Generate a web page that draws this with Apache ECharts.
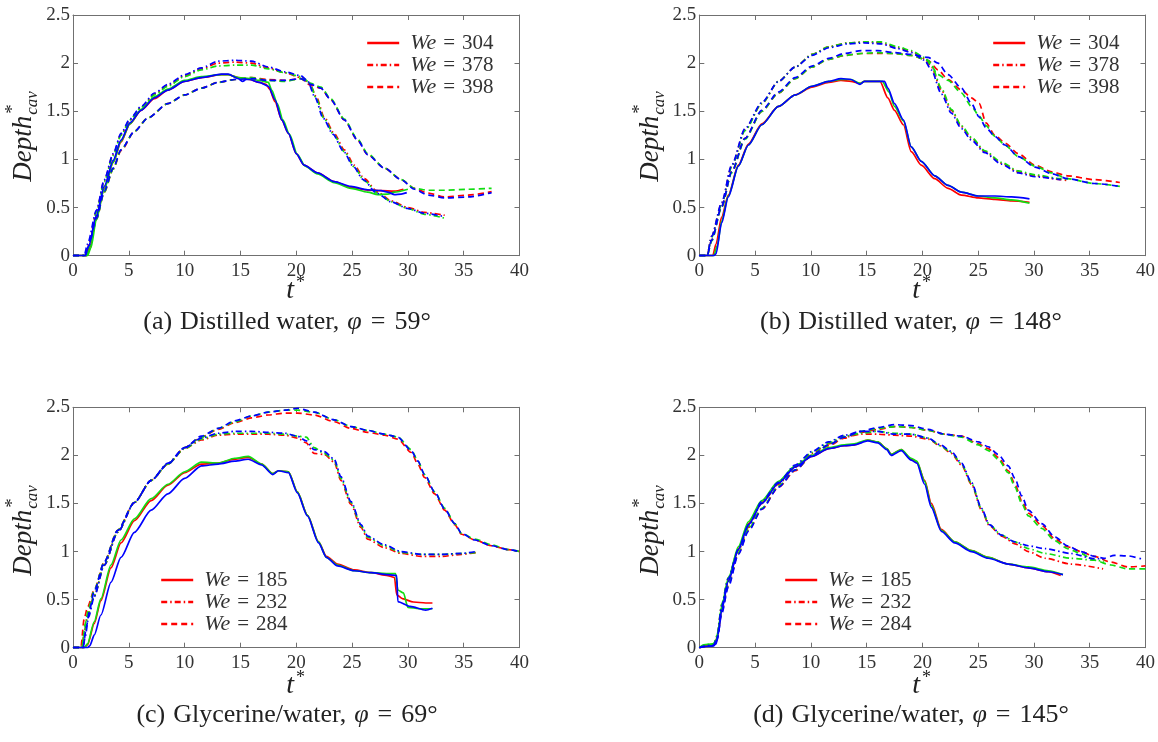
<!DOCTYPE html>
<html><head><meta charset="utf-8">
<script src="https://cdn.jsdelivr.net/npm/echarts@6/dist/echarts.min.js"></script>
<style>html,body{margin:0;padding:0;background:#fff}#c{width:1158px;height:742px}</style>
</head><body><div id="c"></div>
<script>
// ---------- axis ticks ----------
const xTicks = {min:0, max:40, interval:5};
const yTicks = {min:0, max:2.5, interval:0.5};

// ---------- panel (a) Distilled water, phi = 59 ----------
const a304r = [[0,0],[1.2,0],[1.5,0.08],[2.1,0.40],[2.8,0.70],[3.6,0.97],[4.3,1.18],[5.1,1.37],[6.1,1.51],[7.3,1.63],[8.5,1.72],[10,1.81],[11.5,1.85],[13.3,1.88],[13.9,1.88],[14.8,1.85],[15.8,1.83],[16.7,1.80],[17.3,1.78],[17.6,1.73],[18.1,1.60],[18.7,1.41],[19.3,1.27],[20,1.06],[20.7,0.94],[21.9,0.86],[23.4,0.77],[24.9,0.71],[26.4,0.68],[27.6,0.675],[28.8,0.67],[29.6,0.69]];
const a304g = [[0,0],[1.3,0],[1.6,0.08],[2.1,0.38],[2.8,0.69],[3.6,0.97],[4.3,1.19],[5.1,1.37],[6.1,1.52],[7.3,1.65],[8.5,1.73],[10,1.82],[11.5,1.86],[13.3,1.88],[13.9,1.88],[14.8,1.85],[15.8,1.84],[16.7,1.82],[17.5,1.80],[17.8,1.72],[18.3,1.58],[18.8,1.41],[19.4,1.26],[20.1,1.05],[20.8,0.93],[21.9,0.85],[23.4,0.76],[24.9,0.70],[26.4,0.66],[27.3,0.635],[28.2,0.64],[28.8,0.66],[30,0.69]];
const a304b = [[0,0],[1.1,0],[1.4,0.10],[2.1,0.42],[2.8,0.72],[3.6,0.99],[4.3,1.20],[5.1,1.38],[6.1,1.51],[7.3,1.64],[8.5,1.72],[10,1.81],[11.5,1.85],[13.3,1.885],[13.9,1.885],[14.8,1.84],[15.2,1.81],[15.5,1.83],[15.8,1.83],[16.7,1.80],[17.5,1.76],[18.1,1.62],[18.7,1.41],[19.3,1.27],[20,1.06],[20.7,0.94],[21.9,0.86],[23.4,0.77],[24.9,0.72],[26.4,0.685],[27.6,0.675],[28.2,0.66],[28.8,0.635],[29.4,0.64],[29.9,0.655]];
const a378r = [[0,0],[1.1,0],[1.4,0.12],[2.1,0.46],[2.8,0.78],[3.6,1.05],[4.3,1.26],[5.1,1.41],[6.1,1.54],[7.3,1.68],[8.5,1.77],[10,1.87],[11.5,1.94],[13,2.0],[14.5,2.01],[16,2.0],[17.5,1.95],[19,1.90],[20.4,1.85],[21.2,1.79],[21.8,1.65],[22.5,1.44],[23.4,1.27],[24.3,1.10],[25.2,0.94],[26.1,0.80],[27.3,0.66],[28.5,0.57],[30,0.50],[31.5,0.45],[33.3,0.42]];
const a378g = [[0,0],[1.2,0],[1.5,0.12],[2.1,0.45],[2.8,0.77],[3.6,1.04],[4.3,1.25],[5.1,1.41],[6.1,1.54],[7.3,1.67],[8.5,1.76],[10,1.86],[11.5,1.93],[13,1.97],[14.5,1.98],[16,1.98],[17.5,1.94],[19,1.90],[20.4,1.86],[21.2,1.80],[21.8,1.63],[22.5,1.42],[23.4,1.25],[24.3,1.08],[25.2,0.92],[26.1,0.78],[27.3,0.65],[28.5,0.56],[30,0.49],[31.5,0.43],[33.3,0.39]];
const a378b = [[0,0],[1.0,0],[1.3,0.12],[2.1,0.47],[2.8,0.79],[3.6,1.06],[4.3,1.27],[5.1,1.42],[6.1,1.55],[7.3,1.69],[8.5,1.78],[10,1.88],[11.5,1.95],[13,2.02],[14.5,2.03],[16,2.02],[17.5,1.96],[19,1.91],[20.4,1.87],[21,1.82],[21.7,1.64],[22.4,1.43],[23.3,1.26],[24.2,1.09],[25.1,0.93],[26,0.79],[27.2,0.65],[28.5,0.56],[30,0.49],[31.5,0.44],[33.3,0.405]];
const a398r = [[0,0],[1.2,0],[1.5,0.10],[2.1,0.38],[2.8,0.66],[3.6,0.90],[4.3,1.09],[5.5,1.29],[6.7,1.43],[8.5,1.58],[10,1.67],[11.5,1.74],[13,1.80],[14.5,1.83],[16,1.85],[17.5,1.83],[19,1.82],[20.4,1.84],[21.3,1.77],[22.2,1.74],[23.1,1.62],[24.3,1.41],[25.5,1.20],[26.4,1.05],[27.9,0.91],[29.4,0.79],[30.6,0.70],[31.8,0.65],[33.3,0.61],[35.4,0.63],[37.5,0.665]];
const a398g = [[0,0],[1.2,0],[1.5,0.10],[2.1,0.38],[2.8,0.66],[3.6,0.90],[4.3,1.10],[5.5,1.29],[6.7,1.43],[8.5,1.58],[10,1.67],[11.5,1.74],[13,1.80],[14.5,1.83],[16,1.85],[17.5,1.82],[19,1.81],[20.4,1.84],[21.3,1.79],[22.2,1.75],[23.1,1.63],[24.3,1.42],[25.5,1.21],[26.4,1.06],[27.9,0.91],[29.4,0.79],[30.6,0.70],[31.8,0.68],[33.3,0.68],[35.4,0.69],[37.5,0.70]];
const a398b = [[0,0],[1.1,0],[1.4,0.10],[2.1,0.39],[2.8,0.67],[3.6,0.91],[4.3,1.10],[5.5,1.29],[6.7,1.43],[8.5,1.58],[10,1.67],[11.5,1.74],[13,1.80],[14.5,1.83],[16,1.84],[17.5,1.82],[19,1.82],[20.4,1.84],[21.3,1.78],[22.2,1.74],[23.1,1.62],[24.3,1.41],[25.5,1.20],[26.4,1.05],[27.9,0.91],[29.4,0.79],[30.6,0.69],[31.8,0.63],[33.3,0.60],[35.4,0.61],[37.5,0.655]];

// ---------- panel (b) Distilled water, phi = 148 ----------
const b304r = [[0,0],[1.2,0],[1.5,0.12],[2,0.40],[2.6,0.63],[3.5,0.94],[4.4,1.16],[5.6,1.37],[7.1,1.55],[8.6,1.67],[10.1,1.75],[11.6,1.80],[12.7,1.82],[13.6,1.81],[14.4,1.79],[14.8,1.81],[15.7,1.81],[16.2,1.81],[16.9,1.64],[17.5,1.51],[18.3,1.36],[19,1.08],[19.9,0.94],[21.1,0.80],[22.3,0.70],[23.5,0.63],[25,0.60],[26.5,0.585],[28,0.57],[29.6,0.555]];
const b304g = [[0,0],[1.3,0],[1.6,0.10],[2,0.36],[2.6,0.62],[3.5,0.93],[4.4,1.15],[5.6,1.36],[7.1,1.55],[8.6,1.67],[10.1,1.76],[11.6,1.81],[12.7,1.83],[13.6,1.83],[14.4,1.79],[14.8,1.81],[15.7,1.81],[16.4,1.81],[17,1.70],[17.5,1.55],[18.3,1.40],[19,1.13],[19.9,0.98],[21.1,0.83],[22.3,0.73],[23.5,0.66],[25,0.62],[26.5,0.60],[28,0.58],[29.6,0.545]];
const b304b = [[0,0],[1.3,0],[1.5,0.02],[2,0.34],[2.6,0.61],[3.5,0.93],[4.4,1.15],[5.6,1.36],[7.1,1.55],[8.6,1.67],[10.1,1.76],[11.6,1.81],[12.7,1.84],[13.6,1.83],[14.4,1.78],[14.8,1.81],[15.7,1.81],[16.6,1.81],[16.9,1.74],[17.5,1.58],[18.3,1.41],[19,1.13],[19.9,0.98],[21.1,0.83],[22.3,0.73],[23.5,0.66],[25,0.62],[26.5,0.62],[28,0.61],[29.6,0.59]];
const b378r = [[0,0],[0.7,0],[1.1,0.20],[2,0.54],[2.9,0.93],[4.1,1.31],[5.6,1.58],[7.1,1.81],[8.6,1.96],[10.1,2.09],[11.6,2.17],[13.3,2.21],[14.8,2.22],[16.3,2.21],[17.8,2.16],[19,2.12],[20.2,2.05],[20.8,1.96],[21.7,1.72],[22.6,1.51],[23.5,1.34],[24.4,1.22],[25.6,1.08],[27.1,0.96],[28.6,0.87],[30.1,0.83],[32.4,0.79],[33,0.78]];
const b378g = [[0,0],[0.7,0],[1.1,0.19],[2,0.53],[2.9,0.92],[4.1,1.30],[5.6,1.58],[7.1,1.81],[8.6,1.96],[10.1,2.09],[11.6,2.17],[13.3,2.21],[14.8,2.22],[16.3,2.22],[17.8,2.17],[19,2.13],[20.2,2.06],[20.8,1.98],[21.7,1.74],[22.6,1.52],[23.5,1.35],[24.4,1.23],[25.6,1.09],[27.1,0.97],[28.6,0.88],[30.1,0.84],[32.4,0.80],[33,0.79]];
const b378b = [[0,0],[0.7,0],[1.1,0.20],[2,0.55],[2.9,0.94],[4.1,1.32],[5.6,1.59],[7.1,1.81],[8.6,1.96],[10.1,2.08],[11.6,2.16],[13.3,2.20],[14.8,2.21],[16.3,2.20],[17.8,2.15],[19,2.11],[20.2,2.03],[20.8,1.93],[21.7,1.68],[22.6,1.48],[23.5,1.32],[24.4,1.20],[25.6,1.07],[27.1,0.95],[28.6,0.86],[30.1,0.82],[32.4,0.79]];
const b398r = [[0,0],[0.7,0],[1.1,0.16],[2,0.51],[2.9,0.87],[4.1,1.22],[5.6,1.50],[7.1,1.69],[8.6,1.84],[10.1,1.96],[11.6,2.04],[13,2.08],[14.5,2.10],[16,2.10],[17.5,2.10],[19,2.08],[20.5,2.03],[21.4,1.93],[22.3,1.83],[23.5,1.72],[24.4,1.64],[25.1,1.58],[25.7,1.38],[26.5,1.25],[27.4,1.17],[28.6,1.06],[30.1,0.94],[31.6,0.87],[33,0.83],[35.4,0.79],[37.7,0.76]];
const b398g = [[0,0],[0.7,0],[1.1,0.15],[2,0.50],[2.9,0.86],[4.1,1.21],[5.6,1.50],[7.1,1.69],[8.6,1.84],[10.1,1.96],[11.6,2.04],[13,2.08],[14.5,2.10],[16,2.11],[17.5,2.10],[19,2.08],[20.5,2.03],[21.4,1.88],[22.3,1.82],[23.5,1.69],[24.4,1.55],[25.1,1.45],[25.7,1.35],[26.5,1.24],[27.4,1.15],[28.6,1.03],[30.1,0.93],[31.6,0.86],[33,0.80],[35.4,0.75],[37.7,0.72]];
const b398b = [[0,0],[0.7,0],[1.1,0.16],[2,0.51],[2.9,0.87],[4.1,1.22],[5.6,1.51],[7.1,1.70],[8.6,1.85],[10.1,1.97],[11.6,2.05],[13,2.10],[14.5,2.13],[16,2.13],[17.5,2.11],[19,2.09],[20.5,2.06],[21.4,2.0],[22.3,1.88],[23.5,1.74],[24.4,1.58],[25.1,1.44],[25.7,1.33],[26.5,1.24],[27.4,1.15],[28.6,1.03],[30.1,0.92],[31.6,0.85],[33,0.80],[35.4,0.75],[37.7,0.72]];

// ---------- panel (c) Glycerine/water, phi = 69 ----------
const c185r = [[0,0],[1.0,0],[1.3,0.03],[1.9,0.25],[2.5,0.49],[3.4,0.83],[4.3,1.09],[5.5,1.32],[7,1.53],[8.5,1.69],[10,1.82],[11.5,1.91],[13,1.92],[14.5,1.96],[15.7,1.98],[16.9,1.91],[17.9,1.81],[18.4,1.84],[19.3,1.83],[20.1,1.62],[21,1.38],[22,1.10],[22.7,0.95],[23.7,0.87],[25.2,0.81],[26.7,0.78],[28.2,0.75],[28.8,0.73],[29.0,0.55],[29.5,0.51],[30.5,0.475],[31.6,0.465],[32.2,0.465]];
const c185g = [[0,0],[1.0,0],[1.3,0.04],[1.9,0.27],[2.5,0.51],[3.4,0.86],[4.3,1.12],[5.5,1.34],[7,1.55],[8.5,1.70],[10,1.83],[11.5,1.93],[13,1.92],[14.5,1.97],[15.7,1.99],[16.9,1.91],[17.9,1.81],[18.4,1.84],[19.3,1.83],[20.1,1.62],[21,1.38],[22,1.10],[22.7,0.94],[23.7,0.86],[25.2,0.80],[26.7,0.78],[28.2,0.77],[28.9,0.77],[29.1,0.60],[29.6,0.57],[30,0.42],[31,0.405],[32.2,0.405]];
const c185b = [[0,0],[1.3,0],[1.5,0.02],[1.9,0.13],[2.5,0.34],[3.4,0.68],[4.3,0.94],[5.5,1.20],[7,1.43],[8.5,1.60],[10,1.76],[11.5,1.89],[13,1.91],[14.5,1.94],[15.7,1.96],[16.9,1.90],[17.9,1.80],[18.4,1.84],[19.3,1.82],[20.1,1.61],[21,1.37],[22,1.09],[22.7,0.94],[23.7,0.85],[25.2,0.80],[26.7,0.78],[28.2,0.76],[29,0.75],[29.1,0.48],[30.2,0.43],[31.6,0.39],[32.2,0.41]];
const c232r = [[0,0],[0.8,0],[1.0,0.15],[1.3,0.34],[1.9,0.54],[2.8,0.86],[4,1.20],[5.5,1.51],[7,1.74],[8.5,1.91],[10,2.07],[11.5,2.16],[13,2.21],[14.5,2.22],[16,2.22],[17.5,2.22],[19,2.21],[20.1,2.18],[20.9,2.13],[21.6,2.02],[22.5,2.01],[23.4,1.93],[24,1.74],[24.9,1.49],[25.8,1.25],[26.4,1.13],[27.9,1.04],[29.4,0.98],[31.2,0.95],[33,0.95],[34.8,0.97],[36.1,0.99]];
const c232g = [[0,0],[0.8,0],[1.0,0.14],[1.3,0.33],[1.9,0.54],[2.8,0.86],[4,1.20],[5.5,1.51],[7,1.74],[8.5,1.91],[10,2.07],[11.5,2.17],[13,2.22],[14.5,2.23],[16,2.23],[17.5,2.23],[19,2.22],[20.1,2.20],[20.9,2.19],[21.6,2.08],[22.5,2.02],[23.4,1.95],[24,1.76],[24.9,1.51],[25.8,1.27],[26.4,1.15],[27.9,1.06],[29.4,0.99],[31.2,0.97],[33,0.97],[34.8,0.98],[36.1,0.99]];
const c232b = [[0,0],[0.9,0],[1.1,0.12],[1.4,0.32],[1.9,0.53],[2.8,0.86],[4,1.20],[5.5,1.51],[7,1.74],[8.5,1.92],[10,2.08],[11.5,2.18],[13,2.23],[14.5,2.25],[16,2.25],[17.5,2.24],[19,2.23],[20.1,2.20],[20.9,2.15],[21.6,2.06],[22.5,2.04],[23.4,1.96],[24,1.78],[24.9,1.52],[25.8,1.28],[26.4,1.16],[27.9,1.07],[29.4,1.00],[31.2,0.97],[33,0.97],[34.8,0.98],[36.1,1.0]];
const c284r = [[0,0],[0.7,0],[1.0,0.30],[1.3,0.42],[1.9,0.60],[2.8,0.89],[4,1.22],[5.5,1.51],[7,1.74],[8.5,1.91],[10,2.08],[11.5,2.19],[13,2.27],[14.5,2.34],[16,2.39],[17.5,2.42],[19,2.44],[20.1,2.44],[21.6,2.42],[23.4,2.35],[24.9,2.28],[26.4,2.24],[27.9,2.21],[29.1,2.17],[30.3,2.03],[30.9,1.91],[31.5,1.77],[32.4,1.60],[33.3,1.43],[34.2,1.28],[34.8,1.18],[36,1.12],[37.5,1.06],[39,1.02],[40,1.0]];
const c284g = [[0,0],[0.8,0],[1.1,0.25],[1.4,0.41],[1.9,0.60],[2.8,0.89],[4,1.22],[5.5,1.51],[7,1.74],[8.5,1.91],[10,2.08],[11.5,2.19],[13,2.28],[14.5,2.35],[16,2.41],[17.5,2.45],[19,2.47],[20.1,2.47],[21.6,2.45],[23.4,2.37],[24.9,2.30],[26.4,2.26],[27.9,2.22],[29.1,2.19],[30.3,2.06],[30.9,1.94],[31.5,1.80],[32.4,1.62],[33.3,1.45],[34.2,1.29],[34.8,1.19],[36,1.13],[37.5,1.07],[39,1.02],[40,1.0]];
const c284b = [[0,0],[0.9,0],[1.2,0.22],[1.5,0.40],[1.9,0.59],[2.8,0.89],[4,1.22],[5.5,1.51],[7,1.74],[8.5,1.91],[10,2.08],[11.5,2.20],[13,2.28],[14.5,2.36],[16,2.41],[17.5,2.45],[19,2.47],[20.1,2.49],[21.6,2.45],[23.4,2.37],[24.9,2.30],[26.4,2.26],[27.9,2.22],[29.1,2.19],[30.3,2.05],[30.9,1.94],[31.5,1.80],[32.4,1.62],[33.3,1.44],[34.2,1.29],[34.8,1.19],[36,1.12],[37.5,1.06],[39,1.02],[40,1.0]];

// ---------- panel (d) Glycerine/water, phi = 145 ----------
const d185r = [[0,0],[0.4,0.02],[1.2,0.03],[1.5,0.05],[1.7,0.16],[2,0.41],[2.6,0.70],[3.5,1.03],[4.4,1.29],[5.6,1.51],[7.1,1.72],[8.6,1.88],[10.1,1.99],[11.6,2.07],[13,2.10],[13.9,2.11],[15.1,2.16],[16,2.14],[16.8,2.07],[17.2,2.01],[18.1,2.06],[19,1.96],[19.5,1.93],[20.2,1.74],[20.8,1.50],[21.7,1.23],[22.9,1.10],[24.4,1.01],[25.9,0.94],[27.7,0.87],[29.5,0.83],[31.3,0.79],[32.4,0.75]];
const d185g = [[0,0],[0.4,0.03],[1.2,0.04],[1.5,0.06],[1.7,0.18],[2,0.43],[2.6,0.72],[3.5,1.05],[4.4,1.31],[5.6,1.53],[7.1,1.73],[8.6,1.89],[10.1,2.0],[11.6,2.08],[13,2.11],[13.9,2.12],[15.1,2.16],[16,2.14],[16.8,2.07],[17.2,2.01],[18.1,2.06],[19,1.97],[19.5,1.94],[20.2,1.73],[20.8,1.48],[21.7,1.22],[22.9,1.10],[24.4,1.01],[25.9,0.94],[27.7,0.87],[29.5,0.84],[31.3,0.80],[32.6,0.76]];
const d185b = [[0,0],[0.4,0.01],[1.2,0.02],[1.5,0.04],[1.7,0.14],[2,0.39],[2.6,0.69],[3.5,1.02],[4.4,1.28],[5.6,1.50],[7.1,1.71],[8.6,1.88],[10.1,1.99],[11.6,2.07],[13,2.10],[13.9,2.11],[15.1,2.15],[16,2.13],[16.8,2.06],[17.2,2.00],[18.1,2.05],[19,1.95],[19.5,1.92],[20.2,1.70],[20.8,1.46],[21.7,1.21],[22.9,1.09],[24.4,1.0],[25.9,0.93],[27.7,0.87],[29.5,0.83],[31.3,0.79],[32.6,0.76]];
const d232r = [[0,0],[0.5,0.02],[1.3,0.03],[1.6,0.12],[2,0.44],[2.6,0.72],[3.5,1.01],[4.4,1.25],[5.6,1.50],[7.1,1.70],[8.6,1.88],[10.1,2.02],[11.6,2.12],[13,2.19],[14.5,2.22],[16,2.22],[17.5,2.21],[19,2.20],[20.5,2.17],[21.6,2.10],[22.6,2.02],[23.5,1.90],[24.4,1.70],[25.3,1.43],[26,1.27],[27.1,1.16],[28.3,1.08],[29.5,1.0],[31,0.93],[33.3,0.87],[36.2,0.82]];
const d232g = [[0,0],[0.5,0.03],[1.3,0.04],[1.6,0.13],[2,0.45],[2.6,0.73],[3.5,1.02],[4.4,1.26],[5.6,1.51],[7.1,1.71],[8.6,1.89],[10.1,2.03],[11.6,2.13],[13,2.20],[14.5,2.23],[16,2.25],[17.5,2.23],[19,2.22],[20.5,2.18],[21.6,2.10],[22.6,2.03],[23.5,1.91],[24.4,1.71],[25.3,1.44],[26,1.28],[27.1,1.17],[28.3,1.10],[29.5,1.03],[31,0.98],[33.3,0.93],[35.4,0.91],[36.3,0.90]];
const d232b = [[0,0],[0.5,0.02],[1.3,0.03],[1.6,0.11],[2,0.43],[2.6,0.72],[3.5,1.02],[4.4,1.27],[5.6,1.52],[7.1,1.72],[8.6,1.90],[10.1,2.04],[11.6,2.14],[13,2.21],[14.5,2.25],[16,2.25],[17.5,2.22],[19,2.22],[20.5,2.18],[21.6,2.11],[22.6,2.04],[23.5,1.92],[24.4,1.72],[25.3,1.45],[26,1.28],[27.1,1.17],[28.3,1.10],[29.5,1.06],[31,1.03],[33.3,0.98],[35.4,0.925],[36.3,0.925]];
const d284r = [[0,0],[0.5,0.01],[1.3,0.03],[1.6,0.10],[2,0.37],[2.6,0.65],[3.5,0.98],[4.4,1.22],[5.6,1.44],[7.1,1.67],[8.6,1.84],[10.1,2.0],[11.6,2.10],[13,2.18],[14.5,2.24],[16,2.27],[17.5,2.30],[19,2.29],[20.5,2.26],[22,2.22],[23.5,2.20],[25,2.12],[25.9,2.07],[26.8,1.98],[27.7,1.84],[28.3,1.70],[28.9,1.53],[29.5,1.40],[30.7,1.27],[31.9,1.13],[33,1.05],[34.2,1.0],[35.4,0.95],[36.9,0.89],[38.4,0.84],[40,0.85]];
const d284g = [[0,0],[0.5,0.02],[1.3,0.03],[1.6,0.10],[2,0.38],[2.6,0.66],[3.5,0.99],[4.4,1.23],[5.6,1.45],[7.1,1.68],[8.6,1.85],[10.1,2.0],[11.6,2.11],[13,2.19],[14.5,2.25],[16,2.28],[17.5,2.30],[19,2.29],[20.5,2.26],[22,2.22],[23.5,2.19],[25,2.11],[25.9,2.05],[26.8,1.96],[27.7,1.82],[28.3,1.67],[28.9,1.50],[29.5,1.37],[30.7,1.24],[31.9,1.11],[33,1.03],[34.2,0.98],[35.4,0.91],[36.9,0.86],[38.4,0.82],[40,0.82]];
const d284b = [[0,0],[0.5,0.01],[1.3,0.02],[1.6,0.08],[2,0.35],[2.6,0.63],[3.5,0.97],[4.4,1.21],[5.6,1.44],[7.1,1.67],[8.6,1.85],[10.1,2.0],[11.6,2.11],[13,2.19],[14.5,2.25],[16,2.29],[17.5,2.32],[19,2.31],[20.5,2.27],[22,2.22],[23.5,2.20],[25,2.14],[25.9,2.09],[26.8,2.01],[27.7,1.89],[28.3,1.76],[28.9,1.58],[29.5,1.43],[30.7,1.29],[31.9,1.15],[33,1.06],[34.2,1.0],[35.4,0.95],[36.3,0.93],[37.2,0.96],[38.4,0.955],[39.6,0.925]];

// ---------- labels ----------
const weA = ['304','378','398'];
const weC = ['185','232','284'];
const captions = [
  ['(a)', 'Distilled water,', '59°'],
  ['(b)', 'Distilled water,', '148°'],
  ['(c)', 'Glycerine/water,', '69°'],
  ['(d)', 'Glycerine/water,', '145°']
];

// ---------- layout ----------
const SERIF = '"Liberation Serif", "DejaVu Serif", serif';
const PAN = [
  {left:73,   top:15,    w:446.5, h:240.7, lgL:366, lgT:32,  yx:24,  yy:136, tx:296, ty:291, cx:287, cy:322},
  {left:699.3,top:15,    w:446.5, h:240.7, lgL:992, lgT:32,  yx:651, yy:136, tx:922, ty:291, cx:911, cy:322},
  {left:73,   top:407.3, w:446.5, h:240.4, lgL:160, lgT:569, yx:24,  yy:530, tx:296, ty:686, cx:287, cy:715},
  {left:699.3,top:407.3, w:446.5, h:240.4, lgL:784, lgT:569, yx:651, yy:530, tx:922, ty:686, cx:911, cy:715}
];
const COL = {r:'#ff0000', g:'#11dd11', b:'#0000ff'};
const STYLE = [ 'solid', [6,3,1.5,3], [6,4] ];
const AX = '#707070';

const panelData = [
  [[a304r,a304g,a304b],[a378r,a378g,a378b],[a398r,a398g,a398b]],
  [[b304r,b304g,b304b],[b378r,b378g,b378b],[b398r,b398g,b398b]],
  [[c185r,c185g,c185b],[c232r,c232g,c232b],[c284r,c284g,c284b]],
  [[d185r,d185g,d185b],[d232r,d232g,d232b],[d284r,d284g,d284b]]
];
const panelWe = [weA, weA, weC, weC];

const cv = document.createElement('canvas').getContext('2d');
function tw(font, s){ cv.font = font; return cv.measureText(s).width; }

const grid=[], xAxis=[], yAxis=[], series=[], legend=[], graphic=[];
PAN.forEach((p,i)=>{
  grid.push({left:p.left, top:p.top, width:p.w, height:p.h, containLabel:false});
  const common = {gridIndex:i, splitLine:{show:false},
    axisLine:{show:true, onZero:false, lineStyle:{color:AX, width:1}},
    axisTick:{show:true, inside:true, length:5, lineStyle:{color:AX, width:1}}};
  xAxis.push(Object.assign({type:'value', position:'bottom', min:xTicks.min, max:xTicks.max, interval:xTicks.interval,
    axisLabel:{show:true, margin:6, color:'#333', fontFamily:SERIF, fontSize:19, showMinLabel:true, showMaxLabel:true}}, common));
  xAxis.push(Object.assign({type:'value', position:'top', min:xTicks.min, max:xTicks.max, interval:xTicks.interval,
    axisLabel:{show:false}}, common));
  yAxis.push(Object.assign({type:'value', position:'left', min:yTicks.min, max:yTicks.max, interval:yTicks.interval,
    axisLabel:{show:true, margin:3, color:'#333', fontFamily:SERIF, fontSize:19}}, common));
  yAxis.push(Object.assign({type:'value', position:'right', min:yTicks.min, max:yTicks.max, interval:yTicks.interval,
    axisLabel:{show:false}}, common));
  const names=[];
  panelData[i].forEach((trio,k)=>{
    ['r','g','b'].forEach((c,j)=>{
      const nm = j===0 ? ('We = ' + panelWe[i][k]) : ('p'+i+'_'+k+'_'+c);
      if(j===0) names.push(nm);
      series.push({type:'line', name:nm, xAxisIndex:2*i, yAxisIndex:2*i, data:trio[j],
        showSymbol:false, symbol:'none', smooth:0.25, smoothMonotone:'x', clip:true, animation:false,
        lineStyle:{color:COL[c], width:1.7, type:STYLE[k], cap:'butt'}, itemStyle:{color:COL[c]}, z:2+j});
    });
  });
  legend.push({show:true, orient:'vertical', left:p.lgL, top:p.lgT, data:names, selectedMode:false,
    itemWidth:32, itemHeight:12, itemGap:0, padding:0, backgroundColor:'transparent',
    itemStyle:{color:'rgba(0,0,0,0)', borderColor:'rgba(0,0,0,0)', borderWidth:0, opacity:0},
    lineStyle:{width:2.4},
    formatter:(n)=>'{i|We}{e|=}'+n.split('= ')[1],
    textStyle:{fontFamily:SERIF, fontSize:21, color:'#333', padding:[0,0,0,6], lineHeight:20,
      rich:{i:{fontFamily:SERIF, fontStyle:'italic', fontSize:22, color:'#333', lineHeight:20},
            e:{fontFamily:SERIF, fontSize:21, color:'#333', lineHeight:20, padding:[0,7,0,7]}}}});

  // y axis title: Depth^*_{cav}
  const fD = 'italic 27px "Liberation Serif"', fS = 'italic 17px "Liberation Serif"';
  const wD = tw(fD,'Depth'), wS = tw(fS,'cav');
  const total = wD + 2 + wS, x0 = -total/2;
  graphic.push({type:'group', x:p.yx, y:p.yy, rotation:Math.PI/2, children:[
    {type:'text', x:x0, y:0, style:{text:'Depth', fontFamily:'Liberation Serif', fontStyle:'italic', fontSize:27, fill:'#222', align:'left', verticalAlign:'middle'}},
    {type:'text', x:x0+wD+2, y:-11, style:{text:'*', fontFamily:'Liberation Serif', fontSize:19, fill:'#222', align:'left', verticalAlign:'middle'}},
    {type:'text', x:x0+wD+1, y:9, style:{text:'cav', fontFamily:'Liberation Serif', fontStyle:'italic', fontSize:17, fill:'#222', align:'left', verticalAlign:'middle'}}
  ]});
  // x axis title: t^*
  graphic.push({type:'text', x:p.tx-2, y:p.ty, style:{text:'t', fontFamily:'Liberation Serif', fontStyle:'italic', fontSize:28, fill:'#222', align:'right', verticalAlign:'middle'}});
  graphic.push({type:'text', x:p.tx, y:p.ty-8, style:{text:'*', fontFamily:'Liberation Serif', fontSize:18, fill:'#222', align:'left', verticalAlign:'middle'}});
  // caption
  graphic.push({type:'text', x:p.cx, y:p.cy, style:{
    text:'{r|'+captions[i][0]+'}{s|'+captions[i][1]+'}{i|φ}{e|=}{r|'+captions[i][2]+'}',
    align:'center', verticalAlign:'middle',
    rich:{r:{fontFamily:SERIF, fontSize:26, fill:'#222'},
          s:{fontFamily:SERIF, fontSize:26, fill:'#222', padding:[0,8,0,8]},
          i:{fontFamily:SERIF, fontStyle:'italic', fontSize:26, fill:'#222'},
          e:{fontFamily:SERIF, fontSize:26, fill:'#222', padding:[0,9,0,9]}}}});
});

const chart = echarts.init(document.getElementById('c'), null, {renderer:'canvas'});
chart.setOption({animation:false, backgroundColor:'#fff', grid, xAxis, yAxis, series, legend, graphic});
</script></body></html>
